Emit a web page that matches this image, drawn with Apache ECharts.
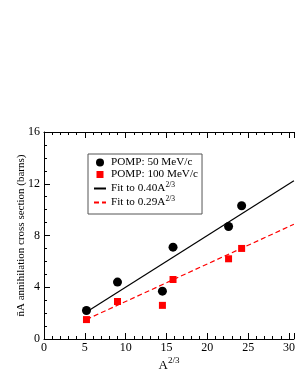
<!DOCTYPE html>
<html><head><meta charset="utf-8">
<script src="https://cdn.jsdelivr.net/npm/echarts@6/dist/echarts.min.js"></script>
<style>html,body{margin:0;padding:0;background:#fff}#c{width:298px;height:385px}</style>
</head><body><div id="c"></div>
<script>
const aTwoThirds = [5.2, 9.0, 14.5, 15.8, 22.6, 24.2];
const pomp50 = [2.2, 4.4, 3.7, 7.1, 8.7, 10.3];
const pomp100 = [1.5, 2.9, 2.6, 4.6, 6.2, 7.0];
const fit040 = [[5.2, 2.08], [30.6, 12.24]];
const fit029 = [[5.2, 1.51], [30.6, 8.87]];
const xTicks = [0, 5, 10, 15, 20, 25, 30];
const yTicks = [0, 4, 8, 12, 16];

const font = 'Liberation Serif';
const chart = echarts.init(document.getElementById('c'));
const pair = (xs, ys) => xs.map((x, i) => [x, ys[i]]);
const sup = {
  b: {fontFamily: font, fontSize: 11.2, color: '#000'},
  s: {fontFamily: font, fontSize: 7.5, color: '#000', verticalAlign: 'top', padding: [0,0,7,0]}
};
chart.setOption({
  animation: false,
  grid: {left: 44, right: 0, top: 132, bottom: 46, containLabel: false},
  legend: {
    orient: 'vertical', left: 88, top: 154,
    padding: [3, 4, 6, 5], itemGap: 1, itemWidth: 12, itemHeight: 8,
    borderColor: '#555', borderWidth: 1, backgroundColor: '#fff',
    textStyle: {fontFamily: font, fontSize: 11.2, color: '#000', rich: sup},
    formatter: function (n) {
      if (n === 'fit40') return '{b|Fit to 0.40A}{s|2/3}';
      if (n === 'fit29') return '{b|Fit to 0.29A}{s|2/3}';
      return n;
    },
    data: [
      {name: 'POMP: 50 MeV/c', icon: 'circle'},
      {name: 'POMP: 100 MeV/c', icon: 'path://M0,0 M12,8 M2.5,0.5 L9.5,0.5 L9.5,7.5 L2.5,7.5 Z'},
      {name: 'fit40', itemStyle: {opacity: 0}},
      {name: 'fit29', itemStyle: {opacity: 0}}
    ]
  },
  xAxis: [{
    type: 'value', min: 0, max: 30.6, interval: 5,
    name: 'A{s|2/3}', nameLocation: 'middle', nameGap: 17, nameMoveOverlap: false,
    nameTextStyle: {fontFamily: font, fontSize: 13, color: '#000',
      rich: {s: {fontFamily: font, fontSize: 9, color: '#000', verticalAlign: 'top', padding: [0,0,10,0]}}},
    axisLine: {lineStyle: {color: '#000', width: 1}},
    axisTick: {inside: true, length: 6, lineStyle: {color: '#000'}},
    minorTick: {show: true, splitNumber: 5, length: 3, lineStyle: {color: '#000'}},
    splitLine: {show: false},
    axisLabel: {fontFamily: font, fontSize: 12, color: '#000', margin: 3,
      formatter: v => xTicks.includes(v) ? String(v) : ''}
  }, {
    type: 'value', position: 'top', min: 0, max: 30.6, interval: 5,
    axisLine: {lineStyle: {color: '#000', width: 1}},
    axisTick: {inside: true, length: 6, lineStyle: {color: '#000'}},
    minorTick: {show: true, splitNumber: 5, length: 3, lineStyle: {color: '#000'}},
    splitLine: {show: false}, axisLabel: {show: false}
  }],
  yAxis: {
    type: 'value', min: 0, max: 16, interval: 4,
    name: 'n\u0304A annihilation cross section (barns)', nameLocation: 'middle', nameGap: 17, nameRotate: 90,
    nameMoveOverlap: false,
    nameTextStyle: {fontFamily: font, fontSize: 11, color: '#000'},
    axisLine: {show: true, lineStyle: {color: '#000', width: 1}},
    axisTick: {show: true, inside: true, length: 6, lineStyle: {color: '#000'}},
    minorTick: {show: true, splitNumber: 4, length: 3, lineStyle: {color: '#000'}},
    splitLine: {show: false},
    axisLabel: {fontFamily: font, fontSize: 12, color: '#000', margin: 4,
      formatter: v => yTicks.includes(v) ? String(v) : ''}
  },
  series: [
    {name: 'fit40', type: 'line', data: fit040, symbol: 'none', z: 2,
      lineStyle: {color: '#000', width: 1.2}, itemStyle: {color: '#000'}},
    {name: 'fit29', type: 'line', data: fit029, symbol: 'none', z: 2,
      lineStyle: {color: '#ff0000', width: 1.2, type: [5, 3]}, itemStyle: {color: '#ff0000'}},
    {name: 'POMP: 50 MeV/c', type: 'scatter', data: pair(aTwoThirds, pomp50), symbol: 'circle', symbolSize: 9, z: 3,
      itemStyle: {color: '#000', opacity: 1}},
    {name: 'POMP: 100 MeV/c', type: 'scatter', data: pair(aTwoThirds, pomp100), symbol: 'rect', symbolSize: 7, z: 3,
      itemStyle: {color: '#ff0000', opacity: 1}}
  ]
});
</script></body></html>
